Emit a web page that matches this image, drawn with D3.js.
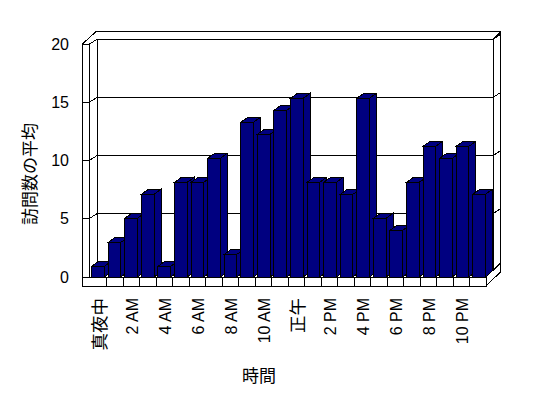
<!DOCTYPE html>
<html><head><meta charset="utf-8">
<script src="https://cdn.jsdelivr.net/npm/d3@7"></script>
<style>
body{margin:0;background:#fff}
svg{display:block}
text{font-family:"Liberation Sans",Arial,"Noto Sans CJK JP",sans-serif;fill:#000}
</style></head><body>
<svg id="c" width="548" height="398"></svg>
<script>
const categories = ["真夜中","1 AM","2 AM","3 AM","4 AM","5 AM","6 AM","7 AM","8 AM","9 AM","10 AM","11 AM",
  "正午","1 PM","2 PM","3 PM","4 PM","5 PM","6 PM","7 PM","8 PM","9 PM","10 PM","11 PM"];
const visits = [1,3,5,7,1,8,8,10,2,13,12,14,15,8,8,7,15,5,4,8,11,10,11,7];
const yTickValues = [0,5,10,15,20];
const shownLabels = categories.filter((d,i)=>i%2===0);
const yTitle = "訪問数の平均";
const xTitle = "時間";

const svg = d3.select("#c");
const g = svg.append("g").attr("shape-rendering","crispEdges");

// geometry
const FL = 82, IL = 89, BL = 97, BR = 493, OR = 500.7, FR = 486;
const FLOOR_TOP = 277, FLOOR_BOT = 286, TOP_OUT = 31.7;
const GDX = 8, GDY = -5;      // wall depth
const BDX = 7, BDY = -5;      // bar depth

const yAxis = d3.scaleLinear().domain([0,20]).range([276.8,44.3]);
const yBar = d3.scaleLinear().domain([0,20]).range([278.3,38.3]);
const xCat = d3.scaleBand().domain(categories).range([90.5,486]);
const xBar = d3.scaleBand().domain(categories).range([90,487.7]);
const barOff = 1.7, barW = 12.6;

function line(x1,y1,x2,y2){
  g.append("line").attr("x1",x1).attr("y1",y1).attr("x2",x2).attr("y2",y2)
   .attr("stroke","#000").attr("stroke-width",1);
}

// back wall gridlines
yTickValues.forEach(v=>{
  const yb = yAxis(v)+GDY;
  line(BL,yb,BR,yb);
  line(BR,yb,OR,yb-5);
  if (v>0) {
    line(IL,yAxis(v),BL,yb);
    line(FL,yAxis(v),IL,yAxis(v));
  }
});
// wall edges
const yTopF = yAxis(20), yTopB = yAxis(20)+GDY, yBotB = yAxis(0)+GDY;
line(BR,yTopB,BR,yBotB);
line(OR,TOP_OUT,OR,yBotB);
line(BR,yTopB,OR,TOP_OUT);
line(BL-1,TOP_OUT,OR,TOP_OUT);
line(BL,yTopB,BL,yBotB);
line(FL,yTopF,FL,FLOOR_BOT);
line(IL,yTopF,IL,FLOOR_TOP);
line(FL,yTopF,IL,yTopF);
line(IL,yTopF,BL,yTopB);
line(FL,yTopF,BL-1,TOP_OUT);

// bars
const bars = g.append("g");
categories.forEach((c,i)=>{
  const v = visits[i];
  const x = xBar(c)+barOff, yt = yBar(v), yb = FLOOR_TOP;
  const bg = bars.append("g").attr("fill","#000080").attr("stroke","#000").attr("stroke-width",1);
  bg.append("polygon").attr("points",[[x+barW,yt],[x+barW+BDX,yt+BDY],[x+barW+BDX,yb+BDY],[x+barW,yb]].join(" "));
  bg.append("polygon").attr("points",[[x,yt],[x+BDX,yt+BDY],[x+barW+BDX,yt+BDY],[x+barW,yt]].join(" "));
  bg.append("rect").attr("x",x).attr("y",yt).attr("width",barW).attr("height",yb-yt);
});

// floor
g.append("rect").attr("x",FL).attr("y",FLOOR_TOP).attr("width",FR-FL).attr("height",FLOOR_BOT-FLOOR_TOP)
  .attr("fill","#fff").attr("stroke","#000");
g.append("polygon").attr("points",[[FR,FLOOR_TOP],[FR,FLOOR_BOT],[OR,yBotB],[OR,FLOOR_TOP-14]].join(" "))
  .attr("fill","#fff").attr("stroke","#000");
categories.forEach((c,i)=>{ if(i>0){ const x=xCat(c); line(x,FLOOR_TOP,x,FLOOR_BOT);} });

// y tick labels
svg.append("g").selectAll("text").data(yTickValues).join("text")
  .attr("x",69).attr("y",d=>yAxis(d)).attr("dy","0.36em").attr("text-anchor","end")
  .attr("font-size",16).text(d=>d);

// x labels
svg.append("g").selectAll("text").data(shownLabels).join("text")
  .attr("transform",d=>`translate(${xCat(d)+xCat.bandwidth()/2+1},298) rotate(-90)`)
  .attr("text-anchor","end").attr("dy","0.36em")
  .attr("font-size",d=>/[0-9A-Z]/.test(d)?16:17.5).text(d=>d);

// titles
svg.append("text").attr("transform","translate(30,174) rotate(-90)").attr("text-anchor","middle")
  .attr("dy","0.36em").attr("font-size",17).text(yTitle);
svg.append("text").attr("x",259).attr("y",376).attr("text-anchor","middle")
  .attr("dy","0.36em").attr("font-size",17).text(xTitle);
</script></body></html>
